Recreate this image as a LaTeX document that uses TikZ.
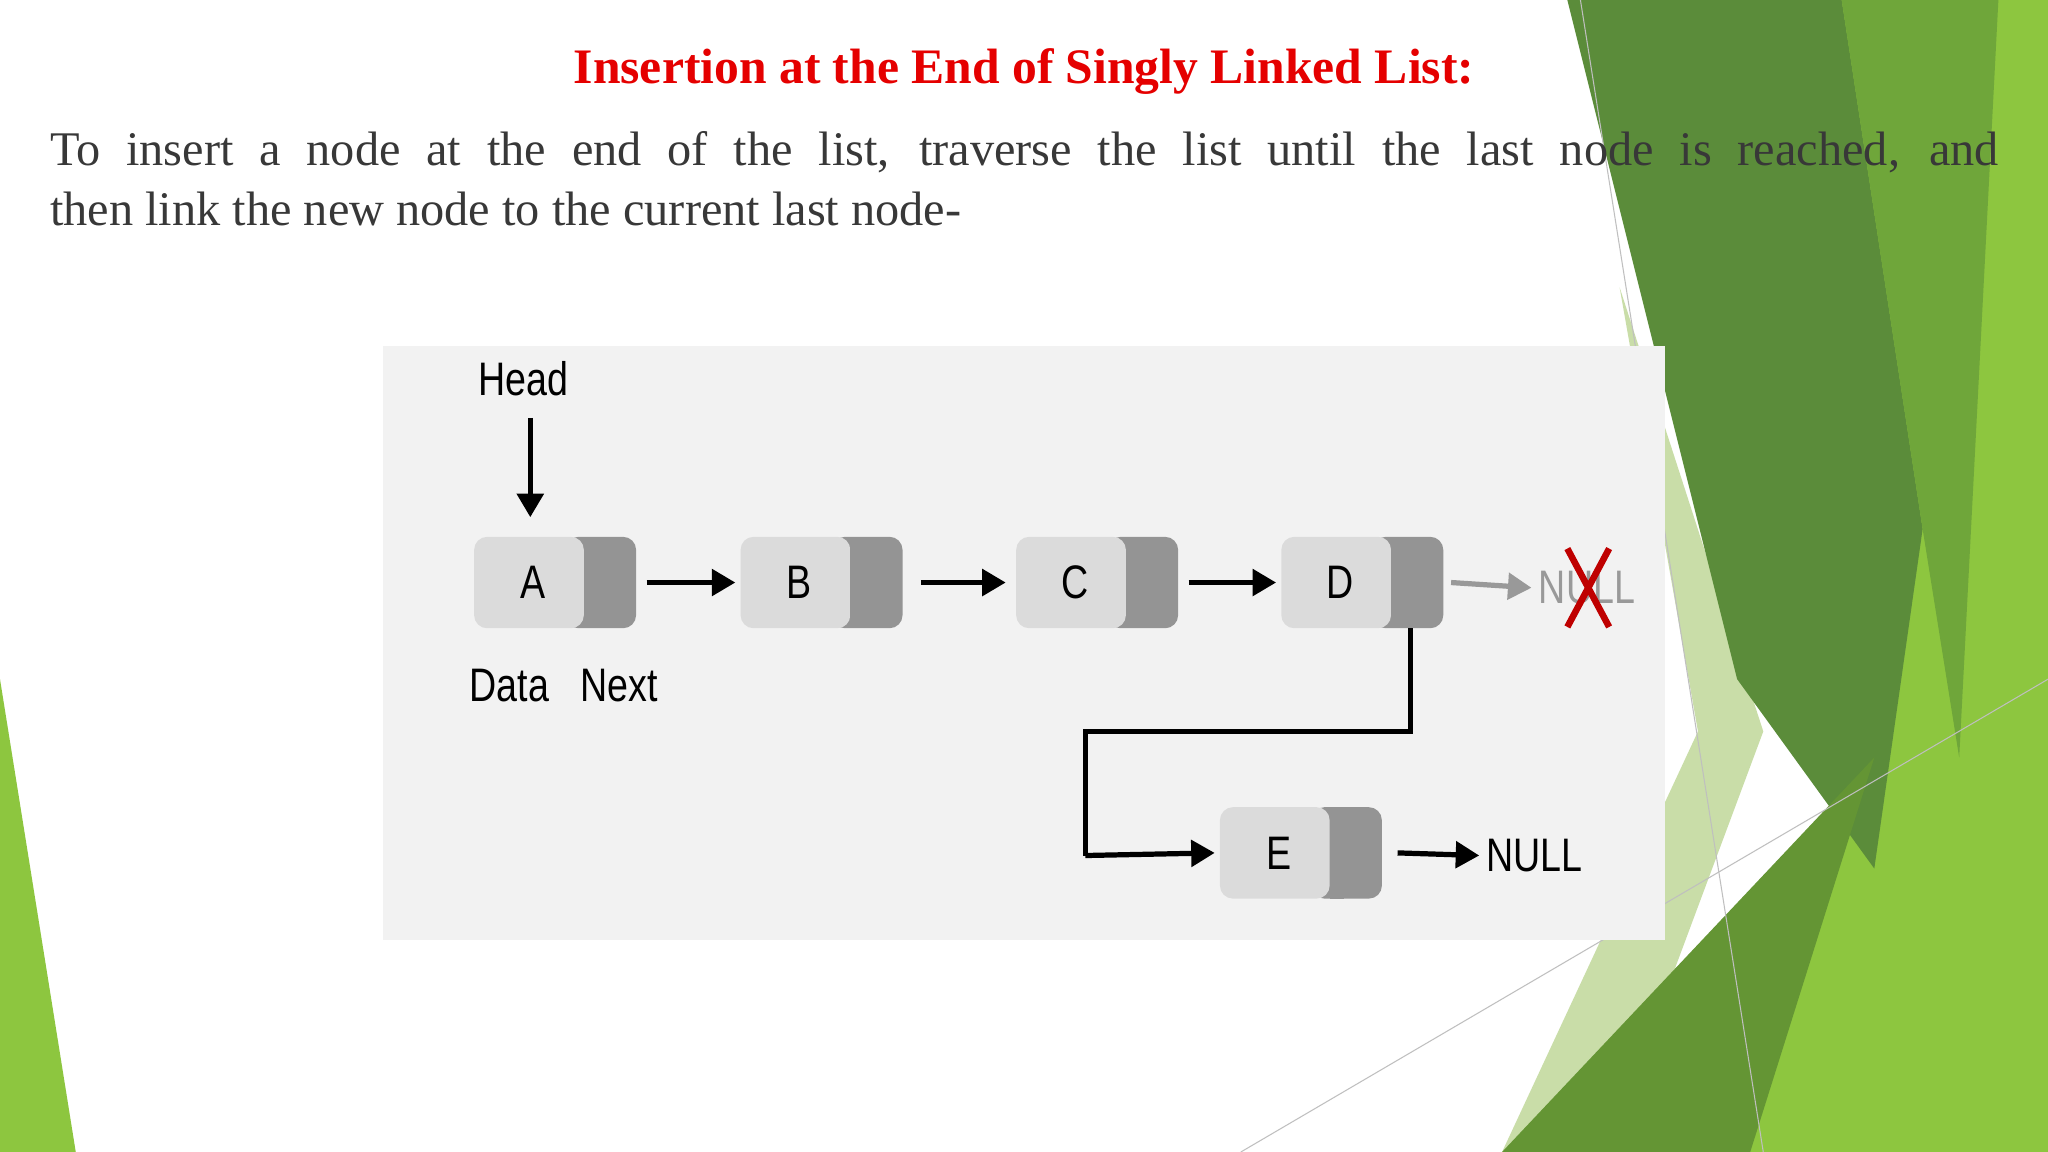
\documentclass[tikz,border=0pt]{standalone}
\usepackage{fontspec}
\setmainfont{Liberation Serif}
\setsansfont{Liberation Sans}
\usetikzlibrary{arrows.meta}
\definecolor{gA}{HTML}{5B8C3A}
\definecolor{gB}{HTML}{6FA63A}
\definecolor{gC}{HTML}{8DC63F}
\definecolor{gD}{HTML}{C9DDA8}
\tikzset{
  dpart/.style={fill=black!14,rounded corners=5pt},
  npart/.style={fill=black!42,rounded corners=5pt},
  lbl/.style={font=\sffamily\fontsize{18}{18}\selectfont,xscale=0.8},
  arr/.style={line width=2pt,-{Triangle[length=9pt,width=10pt]}},
}
\begin{document}
\begin{tikzpicture}[x=0.5pt,y=-0.5pt]
\useasboundingbox (0,0) rectangle (1568,882);
\fill[white] (0,0) rectangle (1568,882);
% green decoration
\fill[gC] (1400,0) -- (1568,0) -- (1568,882) -- (1150,882) -- (1430,620) -- cycle;
\fill[gD] (1240,220) -- (1350,560) -- (1230,882) -- (1150,882) -- (1300,560) -- cycle;
\fill[gA] (1200,0) -- (1410,0) -- (1472,405) -- (1435,665) -- (1330,520) -- cycle;
\fill[gB] (1410,0) -- (1530,0) -- (1500,580) -- (1472,405) -- cycle;
\fill[gB!90!black] (1150,882) -- (1435,580) -- (1340,882) -- cycle;
\fill[gC] (0,520) -- (58,882) -- (0,882) -- cycle;
\draw[black!25,line width=0.4pt] (1210,0) -- (1350,882);
\draw[black!25,line width=0.4pt] (950,882) -- (1568,520);
% title and text
\node[font=\bfseries\fontsize{19}{19}\selectfont,text=red!90!black] (title) at (784,55) {Insertion at the End of Singly Linked List:};
\node[anchor=north west,text width=746pt,align=justify,text=black!78,font=\fontsize{18.5}{23}\selectfont,inner sep=0pt] (body) at (38,100)
{To insert a node at the end of the list, traverse the list until the last node is reached, and\linebreak then link the new node to the current last node-};
% panel
\fill[black!5] (293,265) rectangle (1275,720);
% nodes
\foreach \n/\x/\y in {A/363/411,B/567/411,C/778/411,D/981/411,E/934/618}{
  \fill[npart] (\x+70,\y) rectangle (\x+124,\y+70);
  \fill[dpart] (\x,\y) rectangle (\x+84,\y+70);
  \fill[black!42] (\x+84,\y) rectangle (\x+95,\y+70);
  \node[lbl] (\n) at (\x+45,\y+35) {\n};
  \coordinate (\n-l) at (\x,\y+35);
  \coordinate (\n-r) at (\x+124,\y+35);
  \coordinate (\n-nx) at (\x+99,\y+70);
}
\node[lbl] (head) at (401,290) {Head};
\coordinate (hs) at (406,320);
\coordinate (he) at (406,396);
\draw[arr] (hs) -- (he);
\node[lbl] (data) at (390,525) {Data};
\node[lbl] (next) at (474,525) {Next};
\draw[arr] ([xshift=4pt]A-r) -- ([xshift=-2pt]B-l);
\draw[arr] ([xshift=7pt]B-r) -- ([xshift=-4pt]C-l);
\draw[arr] ([xshift=4pt]C-r) -- ([xshift=-2pt]D-l);
\node[lbl,text=black!40] (null1) at (1215,450) {NULL};
\draw[line width=2pt,black!40,-{Triangle[length=9pt,width=10pt]}] ([xshift=3pt]D-r) -- (null1.west);
\draw[red!75!black,line width=2.5pt] (1200,420) -- (1232,480) (1232,420) -- (1200,480);
\coordinate (k1) at (1080,560);
\coordinate (k2) at (831,560);
\coordinate (k3) at (831,655);
\draw[line width=2pt] (D-nx) -- (k1) -- (k2) -- (k3);
\draw[arr] (k3) -- ([xshift=-2pt]E-l);
\node[lbl] (null2) at (1175,655) {NULL};
\draw[arr] ([xshift=6pt]E-r) -- (null2.west);
\end{tikzpicture}
\end{document}
